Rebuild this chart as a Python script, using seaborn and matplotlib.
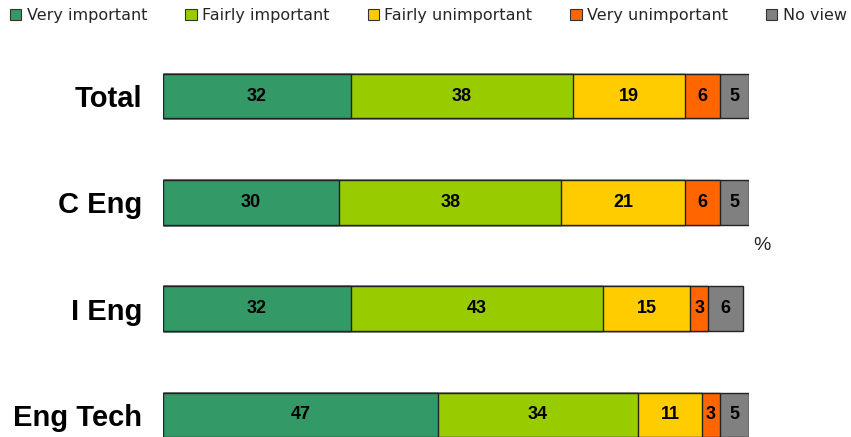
import matplotlib
matplotlib.use("Agg")
import matplotlib.pyplot as plt
import seaborn as sns
import pandas as pd
import numpy as np
from matplotlib.patches import Patch

groups = ["Total", "C Eng", "I Eng", "Eng Tech"]
series = ["Very important", "Fairly important", "Fairly unimportant", "Very unimportant", "No view"]
very_important = [32, 30, 32, 47]
fairly_important = [38, 38, 43, 34]
fairly_unimportant = [19, 21, 15, 11]
very_unimportant = [6, 6, 3, 3]
no_view = [5, 5, 6, 5]
colors = ["#339966", "#99CC00", "#FFCC00", "#FF6600", "#808080"]

sns.set_theme(style="white")
plt.rcParams['font.family'] = ['Liberation Sans', 'DejaVu Sans']

vals = np.array([very_important, fairly_important, fairly_unimportant, very_unimportant, no_view])
cum = np.cumsum(vals, axis=0)

fig = plt.figure(figsize=(8.51, 4.37), dpi=100)
ax = fig.add_axes([163/851, 0, 586/851, 377/437])

for i in range(len(series) - 1, -1, -1):
    df = pd.DataFrame({"group": groups, "value": cum[i]})
    sns.barplot(data=df, y="group", x="value", orient="h", color=colors[i],
                width=0.42, edgecolor="#222222", linewidth=1.0, ax=ax, saturation=1)

for i in range(len(series)):
    for j in range(len(groups)):
        center = cum[i, j] - vals[i, j] / 2
        ax.text(center, j, str(vals[i, j]), ha="center", va="center",
                fontsize=13, fontweight="bold", color="black")

ax.set_xlim(0, 100)
ax.set_ylim(3 + (437 - 415) / 106.33, -(96 - 60) / 106.33)
ax.set_xlabel("")
ax.set_ylabel("")
ax.set_xticks([])
ax.tick_params(axis="y", length=0, pad=15)
for lab in ax.get_yticklabels():
    lab.set_fontsize(21)
    lab.set_fontweight("bold")
    lab.set_color("black")
for s in ax.spines.values():
    s.set_visible(False)

fig.text(762/851, 1 - 245/437, "%", fontsize=14, ha="center", va="center")

handles = [Patch(facecolor=c, edgecolor="#333333", linewidth=0.8) for c in colors]
leg = fig.legend(handles, series, loc="upper left", bbox_to_anchor=(-0.005, 1.015), ncol=5,
                 frameon=False, handlelength=0.7, handleheight=0.7,
                 handletextpad=0.35, columnspacing=2.38,
                 prop={"family": ["DejaVu Sans"], "size": 11.5})

fig.savefig("out.png", dpi=100)
